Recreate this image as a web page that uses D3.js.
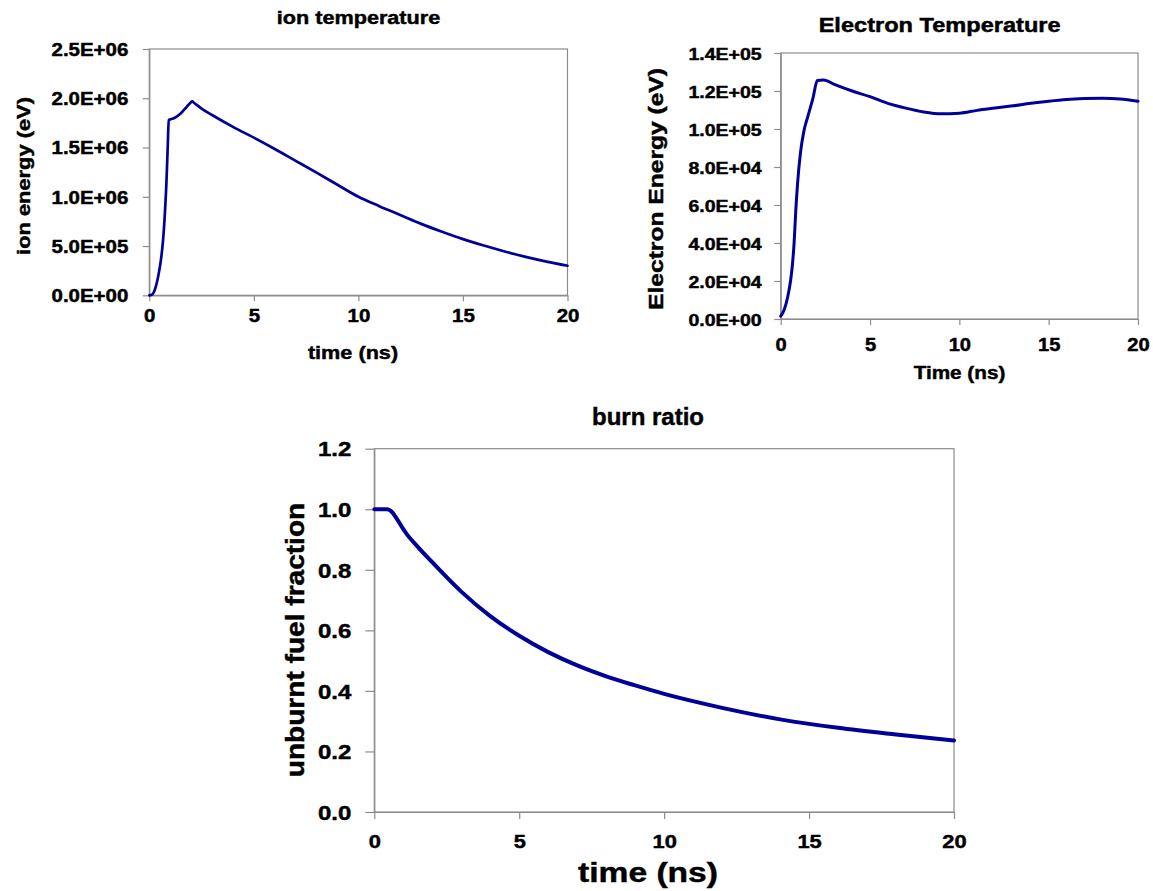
<!DOCTYPE html>
<html>
<head>
<meta charset="utf-8">
<script src="https://cdn.jsdelivr.net/npm/d3@7/dist/d3.min.js"></script>
<style>
  html, body { margin: 0; padding: 0; background: #fff; }
  svg { display: block; }
  text { font-family: "Liberation Sans", Arial, Helvetica, sans-serif; font-weight: bold; fill: #000; stroke: #000; stroke-width: 0.45px; }
</style>
</head>
<body>
<svg id="chart" width="1153" height="891"></svg>
<script>
// ---------------- DATA ----------------
// Ion temperature (time ns, ion energy eV)
const ionTime   = [0, 0.15, 0.3, 0.45, 0.55, 0.65, 0.75, 0.82, 0.88, 0.93, 1.0, 1.2, 1.5, 1.8, 1.97, 2.05, 2.15, 2.5, 3.0, 4.0, 5.0, 6.0, 7.0, 8.0, 9.0, 10, 11, 12, 13, 14, 15, 16, 17, 18, 19, 20];
const ionEnergy = [0, 10e3, 80e3, 220e3, 350e3, 540e3, 850e3, 1.15e6, 1.5e6, 1.78e6, 1.785e6, 1.80e6, 1.845e6, 1.915e6, 1.955e6, 1.968e6, 1.952e6, 1.895e6, 1.83e6, 1.71e6, 1.60e6, 1.485e6, 1.365e6, 1.245e6, 1.122e6, 1.0e6, 0.905e6, 0.815e6, 0.725e6, 0.645e6, 0.57e6, 0.505e6, 0.445e6, 0.39e6, 0.342e6, 0.30e6];
const ionYTicks = [0, 5e5, 1e6, 1.5e6, 2e6, 2.5e6];
const ionYTickLabels = ["0.0E+00", "5.0E+05", "1.0E+06", "1.5E+06", "2.0E+06", "2.5E+06"];

// Electron temperature (time ns, electron energy eV)
const eTime   = [0, 0.2, 0.4, 0.55, 0.65, 0.75, 0.85, 0.95, 1.1, 1.3, 1.5, 1.8, 2.05, 2.4, 3.0, 4.0, 5.0, 6.0, 7.0, 8.0, 9.0, 10, 11, 12, 13, 14, 15, 16, 17, 18, 19, 20];
const eEnergy = [1.5e3, 5e3, 12e3, 20e3, 28e3, 40e3, 58e3, 72e3, 87e3, 99e3, 106e3, 116e3, 125.5e3, 125.8e3, 123.5e3, 120e3, 117e3, 113.5e3, 111e3, 109e3, 108e3, 108.3e3, 109.8e3, 111e3, 112.2e3, 113.5e3, 114.6e3, 115.5e3, 116e3, 116.2e3, 115.8e3, 114.6e3];
const eYTicks = [0, 2e4, 4e4, 6e4, 8e4, 1e5, 1.2e5, 1.4e5];
const eYTickLabels = ["0.0E+00", "2.0E+04", "4.0E+04", "6.0E+04", "8.0E+04", "1.0E+05", "1.2E+05", "1.4E+05"];

// Burn ratio (time ns, unburnt fuel fraction)
const burnTime     = [0, 0.2, 0.45, 0.6, 0.8, 1.0, 1.12, 1.5, 2, 3, 4, 5, 6, 7, 8, 9, 10, 12, 14, 16, 18, 20];
const burnFraction = [1.0, 1.0, 1.0, 0.992, 0.965, 0.934, 0.918, 0.876, 0.825, 0.728, 0.647, 0.582, 0.528, 0.484, 0.448, 0.418, 0.39, 0.344, 0.306, 0.278, 0.256, 0.236];
const burnYTicks = [0, 0.2, 0.4, 0.6, 0.8, 1.0, 1.2];
const burnYTickLabels = ["0.0", "0.2", "0.4", "0.6", "0.8", "1.0", "1.2"];

const timeTicks = [0, 5, 10, 15, 20];
const timeTickLabels = ["0", "5", "10", "15", "20"];

// ---------------- DRAW ----------------
const svg = d3.select("#chart");
const LINE = "#000099";
const AXIS = "#8c8c8c";

function label(x, y, txt, size, sx, rot) {
  svg.append("text")
    .attr("transform", `translate(${x},${y}) rotate(${rot || 0}) scale(${sx},1)`)
    .attr("text-anchor", "middle")
    .style("font-size", size + "px")
    .text(txt);
}

function panel(cfg) {
  const x = d3.scaleLinear().domain([0, 20]).range([cfg.left, cfg.right]);
  const y = d3.scaleLinear().domain(cfg.yDomain).range([cfg.bottom, cfg.top]);
  const g = svg.append("g");

  g.append("rect")
    .attr("x", cfg.left).attr("y", cfg.top)
    .attr("width", cfg.right - cfg.left).attr("height", cfg.bottom - cfg.top)
    .attr("fill", "none").attr("stroke", AXIS).attr("stroke-width", 1.2);

  const ya = g.append("g").attr("transform", `translate(${cfg.left},0)`)
    .call(d3.axisLeft(y).tickValues(cfg.yTicks).tickFormat((d, i) => cfg.yLabels[i])
      .tickSize(cfg.yTickLen).tickSizeOuter(0));
  ya.attr("font-family", null).attr("font-size", null);
  ya.select(".domain").attr("stroke", AXIS).attr("stroke-width", 1.2);
  ya.selectAll(".tick line").attr("stroke", AXIS).attr("stroke-width", 1.2);
  ya.selectAll(".tick text")
    .attr("x", -cfg.yLabOff / cfg.yTickSx).attr("dy", null).attr("y", cfg.yTickSize * 0.36)
    .attr("transform", `scale(${cfg.yTickSx},1)`)
    .attr("fill", "#000")
    .style("font-size", cfg.yTickSize + "px");

  const xa = g.append("g").attr("transform", `translate(0,${cfg.bottom})`)
    .call(d3.axisBottom(x).tickValues(timeTicks).tickFormat((d, i) => timeTickLabels[i])
      .tickSize(cfg.xTickLen).tickSizeOuter(0));
  xa.attr("font-family", null).attr("font-size", null);
  xa.select(".domain").attr("stroke", AXIS).attr("stroke-width", 1.2);
  xa.selectAll(".tick line").attr("stroke", AXIS).attr("stroke-width", 1.2);
  xa.selectAll(".tick text")
    .attr("y", cfg.xLabOff).attr("dy", null)
    .attr("transform", `scale(${cfg.xTickSx},1)`)
    .attr("fill", "#000")
    .style("font-size", cfg.xTickSize + "px");

  const pts = cfg.xs.map((t, i) => [t, cfg.ys[i]]);
  g.append("path")
    .datum(pts)
    .attr("fill", "none")
    .attr("stroke", LINE)
    .attr("stroke-width", cfg.lw)
    .attr("stroke-linejoin", "round")
    .attr("stroke-linecap", "round")
    .attr("d", d3.line().x(d => x(d[0])).y(d => y(d[1])).curve(cfg.curve));

  label(cfg.title.x, cfg.title.y, cfg.title.t, cfg.title.size, cfg.title.sx, 0);
  label(cfg.xl.x, cfg.xl.y, cfg.xl.t, cfg.xl.size, cfg.xl.sx, 0);
  label(cfg.yl.x, cfg.yl.y, cfg.yl.t, cfg.yl.size, cfg.yl.sx, -90);
}

panel({
  left: 149.3, right: 567.5, top: 49, bottom: 295.3,
  yDomain: [0, 2.5e6], yTicks: ionYTicks, yLabels: ionYTickLabels,
  yTickLen: 6.5, yLabOff: 21, yTickSize: 17.5, yTickSx: 1.17,
  xTickLen: 6, xLabOff: 27, xTickSize: 17.5, xTickSx: 1.17,
  xs: ionTime, ys: ionEnergy, lw: 2.7, curve: d3.curveMonotoneX,
  title: { x: 358.5, y: 24, t: "ion temperature", size: 18.5, sx: 1.17 },
  xl: { x: 353, y: 359, t: "time (ns)", size: 19, sx: 1.14 },
  yl: { x: 30, y: 176, t: "ion energy (eV)", size: 19, sx: 1.15 }
});

panel({
  left: 780.7, right: 1138, top: 53, bottom: 319,
  yDomain: [0, 1.4e5], yTicks: eYTicks, yLabels: eYTickLabels,
  yTickLen: 6.5, yLabOff: 19, yTickSize: 17, yTickSx: 1.15,
  xTickLen: 6, xLabOff: 32.5, xTickSize: 17.5, xTickSx: 1.15,
  xs: eTime, ys: eEnergy, lw: 3, curve: d3.curveMonotoneX,
  title: { x: 939.6, y: 32, t: "Electron Temperature", size: 19.5, sx: 1.21 },
  xl: { x: 959.5, y: 379, t: "Time (ns)", size: 18.5, sx: 1.12 },
  yl: { x: 663, y: 189, t: "Electron Energy (eV)", size: 20, sx: 1.23 }
});

panel({
  left: 374.3, right: 954, top: 448.7, bottom: 812,
  yDomain: [0, 1.2], yTicks: burnYTicks, yLabels: burnYTickLabels,
  yTickLen: 9, yLabOff: 23, yTickSize: 20, yTickSx: 1.2,
  xTickLen: 7, xLabOff: 36.5, xTickSize: 19, xTickSx: 1.15,
  xs: burnTime, ys: burnFraction, lw: 4, curve: d3.curveMonotoneX,
  title: { x: 648, y: 425, t: "burn ratio", size: 24, sx: 1.0 },
  xl: { x: 648, y: 882, t: "time (ns)", size: 28, sx: 1.2 },
  yl: { x: 304, y: 640, t: "unburnt fuel fraction", size: 26, sx: 1.08 }
});
</script>
</body>
</html>
